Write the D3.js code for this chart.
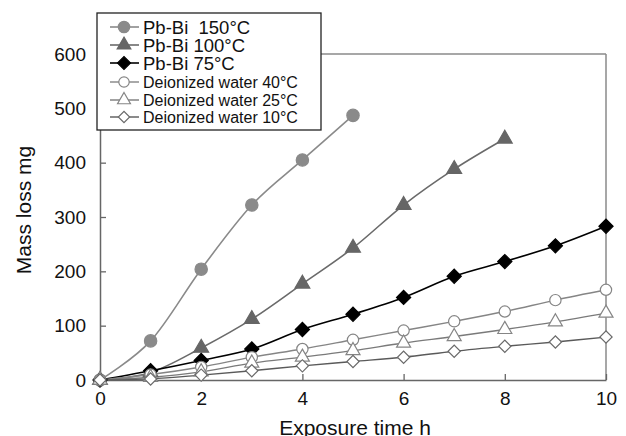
<!DOCTYPE html>
<html><head><meta charset="utf-8">
<script src="https://cdn.jsdelivr.net/npm/d3@7"></script>
<style>body{margin:0;background:#fff}svg{display:block}text{font-family:"Liberation Sans",Arial,sans-serif}</style>
</head><body><svg id="c" width="626" height="436"></svg>
<script>
const hours = [0,1,2,3,4,5,6,7,8,9,10];
const seriesNames = ["Pb-Bi  150°C","Pb-Bi 100°C","Pb-Bi 75°C","Deionized water 40°C","Deionized water 25°C","Deionized water 10°C"];
const pbbi150 = [0,72,204,322,405,487];
const pbbi100 = [0,14,59,112,177,243,322,388,444];
const pbbi75 = [0,17,36,57,93,121,152,191,218,247,283];
const water40 = [0,10,24,42,57,74,91,108,126,147,166];
const water25 = [0,5,15,31,42,54,68,80,93,107,123];
const water10 = [0,2,9,17,26,34,42,53,62,70,79];
const xTicks = [0,2,4,6,8,10];
const yTicks = [0,100,200,300,400,500,600];

const svg = d3.select("#c");
const x = d3.scaleLinear().domain([0,10]).range([100,606]);
const y = d3.scaleLinear().domain([0,600]).range([380,54]);

const styles = [
  {data:pbbi150, line:"#8a8a8a", fill:"#8a8a8a", stroke:"#8a8a8a", sym:"circle", size:120, lw:1.6, fs:18.5},
  {data:pbbi100, line:"#6a6a6a", fill:"#666", stroke:"#666", sym:"triangle", size:95, lw:1.6, fs:18.5},
  {data:pbbi75, line:"#000", fill:"#000", stroke:"#000", sym:"diamond", size:100, lw:1.6, fs:18.5},
  {data:water40, line:"#858585", fill:"#fff", stroke:"#858585", sym:"circle", size:100, lw:1.4, fs:16},
  {data:water25, line:"#7a7a7a", fill:"#fff", stroke:"#858585", sym:"triangle", size:85, lw:1.4, fs:16},
  {data:water10, line:"#5a5a5a", fill:"#fff", stroke:"#6a6a6a", sym:"diamond", size:75, lw:1.4, fs:16}
];
function symPath(s, size){
  if(s==="circle") return d3.symbol(d3.symbolCircle, size)();
  if(s==="triangle") return d3.symbol(d3.symbolTriangle, size)();
  return d3.symbol(d3.symbolSquare, size)();
}
function symTransform(s, px, py){
  return s==="diamond" ? `translate(${px},${py}) rotate(45)` : `translate(${px},${py})`;
}

// frame
svg.append("line").attr("x1",100).attr("x2",606).attr("y1",54).attr("y2",54).attr("stroke","#8a8a8a").attr("stroke-width",1.5);
svg.append("line").attr("x1",606).attr("x2",606).attr("y1",54).attr("y2",380).attr("stroke","#8a8a8a").attr("stroke-width",1.5);

// axes
const xAxis = svg.append("g").attr("transform","translate(0,380)")
  .call(d3.axisBottom(x).tickValues(xTicks).tickSizeInner(-6).tickSizeOuter(0).tickPadding(12));
const yAxis = svg.append("g").attr("transform","translate(100,0)")
  .call(d3.axisLeft(y).tickValues(yTicks).tickSizeInner(-6).tickSizeOuter(0).tickPadding(14));
[xAxis,yAxis].forEach(a=>{
  a.select(".domain").attr("stroke","#666").attr("stroke-width",1.5);
  a.selectAll(".tick line").attr("stroke","#666").attr("stroke-width",1.3);
  a.selectAll(".tick text").attr("font-size",19).attr("fill","#111").attr("font-family","Liberation Sans, Arial, sans-serif");
});

// series
const line = d3.line().x((d,i)=>x(hours[i])).y(d=>y(d)).curve(d3.curveCatmullRom.alpha(0));
styles.forEach(s=>{
  svg.append("path").attr("d", line(s.data)).attr("fill","none").attr("stroke",s.line).attr("stroke-width",s.lw);
});
styles.forEach(s=>{
  svg.append("g").selectAll("path").data(s.data).join("path")
    .attr("d", symPath(s.sym, s.size))
    .attr("transform",(d,i)=>symTransform(s.sym, x(hours[i]), y(d)))
    .attr("fill",s.fill).attr("stroke",s.stroke).attr("stroke-width",1.2);
});

// axis titles
svg.append("text").attr("x",355).attr("y",435).attr("text-anchor","middle").attr("font-size",21).attr("fill","#111").text("Exposure time h");
svg.append("text").attr("transform","translate(31,210) rotate(-90)").attr("text-anchor","middle").attr("font-size",21).attr("fill","#111").text("Mass loss mg");

// legend
const lg = svg.append("g");
lg.append("rect").attr("x",97).attr("y",13).attr("width",224).attr("height",117).attr("fill","#fff").attr("stroke","#222").attr("stroke-width",1.3);
const rowsY = [27,45,63,82,100,117];
styles.forEach((s,i)=>{
  const yy = rowsY[i];
  lg.append("line").attr("x1",110).attr("x2",139).attr("y1",yy).attr("y2",yy).attr("stroke",s.line).attr("stroke-width",s.lw);
  lg.append("path").attr("d",symPath(s.sym, s.size*0.85)).attr("transform",symTransform(s.sym,124,yy))
    .attr("fill",s.fill).attr("stroke",s.stroke).attr("stroke-width",1.2);
  lg.append("text").attr("x",143).attr("y",yy).attr("dy","0.36em").attr("font-size",s.fs).attr("fill","#111")
    .style("white-space","pre").text(seriesNames[i]);
});
</script></body></html>
